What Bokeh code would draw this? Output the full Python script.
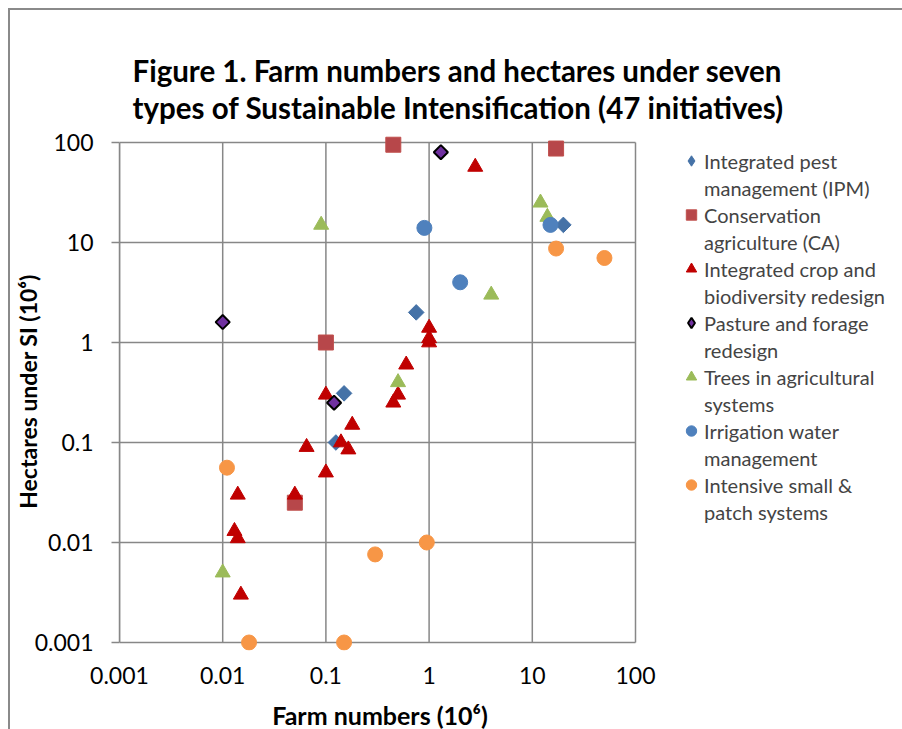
import math
import numpy as np
from bokeh.plotting import figure
from bokeh.models import Range1d, FixedTicker, Legend, LegendItem
from bokeh.embed import file_html
from bokeh.resources import INLINE

# ---------------- data ----------------
title_text = ("Figure 1. Farm numbers and hectares under seven\n"
              "types of Sustainable Intensification (47 initiatives)")
x_label = "Farm numbers (10\u2076)"
y_label = "Hectares under SI (10\u2076)"
tick_values = [0.001, 0.01, 0.1, 1, 10, 100]
tick_labels = ["0.001", "0.01", "0.1", "1", "10", "100"]

series_names = ["Integrated pest\nmanagement (IPM)",
                "Conservation\nagriculture (CA)",
                "Integrated crop and\nbiodiversity redesign",
                "Pasture and forage\nredesign",
                "Trees in agricultural\nsystems",
                "Irrigation water\nmanagement",
                "Intensive small &\npatch systems"]

ipm_x = [0.75, 0.15, 0.125, 20]
ipm_y = [2.0, 0.31, 0.1, 15]
ca_x = [0.45, 0.1, 17, 0.05]
ca_y = [95, 1.0, 87, 0.025]
icb_x = [2.8, 0.1, 0.5, 0.45, 0.18, 0.065, 0.14, 0.165, 0.1, 0.014, 0.05,
         0.013, 0.014, 0.015, 1.0, 1.0, 1.0, 0.6]
icb_y = [57, 0.3, 0.3, 0.25, 0.15, 0.09, 0.1, 0.085, 0.05, 0.03, 0.03,
         0.013, 0.011, 0.003, 1.4, 1.1, 1.0, 0.6]
past_x = [0.01, 1.3, 0.12]
past_y = [1.6, 80, 0.25]
trees_x = [0.09, 12, 14, 4, 0.5, 0.01]
trees_y = [15, 25, 18, 3, 0.4, 0.005]
irr_x = [0.9, 15, 2]
irr_y = [14, 15, 4]
int_x = [17, 50, 0.011, 0.3, 0.95, 0.018, 0.15]
int_y = [8.7, 7, 0.056, 0.0076, 0.01, 0.001, 0.001]

FONT = "Lato"
GRID = "#878787"

lo, hi = tick_values[0], tick_values[-1]
# small margins beyond the outer gridlines so edge markers are not clipped
x_rng = Range1d(lo, hi * 10 ** (5 / 103.2))
y_rng = Range1d(lo / 10 ** 0.08, hi * 10 ** 0.10)

p = figure(x_axis_type="log", y_axis_type="log",
           x_range=x_rng, y_range=y_rng,
           frame_width=521, frame_height=518,
           min_border_left=108, min_border_right=250,
           min_border_top=122, min_border_bottom=79,
           output_backend="svg", toolbar_location=None)
p.styles = {"border-left": "2px solid #8a8a8a", "border-top": "2px solid #8a8a8a",
            "margin-left": "8px", "margin-top": "8px"}
p.background_fill_color = "white"
p.border_fill_color = "white"
p.outline_line_color = None
p.grid.visible = False

p.title.text = title_text
p.title.align = "left"
p.title.offset = 13
p.title.standoff = 14
p.title.text_font = FONT
p.title.text_font_style = "bold"
p.title.text_font_size = "29.5px"
p.title.text_line_height = 1.07
p.title.text_color = "black"

for ax in (p.xaxis[0], p.yaxis[0]):
    ax.ticker = FixedTicker(ticks=tick_values, minor_ticks=[])
    ax.major_label_overrides = {v: l for v, l in zip(tick_values, tick_labels)}
    ax.axis_line_color = GRID
    ax.axis_line_width = 1.5
    ax.major_tick_line_color = GRID
    ax.major_tick_line_width = 1.5
    ax.minor_tick_line_color = None
    ax.major_label_text_font = FONT
    ax.major_label_text_font_size = "23px"
    ax.major_label_text_color = "black"
    ax.axis_label_text_font = FONT
    ax.axis_label_text_font_style = "bold"
    ax.axis_label_text_color = "black"

p.xaxis.axis_label = x_label
p.yaxis.axis_label = y_label
p.xaxis.axis_label_text_font_size = "25px"
p.yaxis.axis_label_text_font_size = "23px"
p.xaxis.axis_line_color = None
p.xaxis.major_tick_out = 0
p.xaxis.major_tick_in = 0
p.xaxis.major_label_standoff = 16
p.xaxis.axis_label_standoff = 13
p.yaxis.bounds = (lo, hi)
p.yaxis.major_tick_out = 8
p.yaxis.major_tick_in = 0
p.yaxis.major_label_standoff = 18
p.yaxis.axis_label_standoff = -10

# gridlines (only between the outer tick values, like the original)
tv = np.array(tick_values, dtype=float)
p.segment(x0=tv, y0=np.full_like(tv, lo), x1=tv, y1=np.full_like(tv, hi),
          line_color=GRID, line_width=1.5)
p.segment(x0=np.full_like(tv, lo), y0=tv, x1=np.full_like(tv, hi), y1=tv,
          line_color=GRID, line_width=1.5)

# legend glyphs for the diamond series: Bokeh draws legend markers unrotated,
# so a tiny 'diamond' marker on the same points (hidden below) feeds the legend
leg_ipm = p.scatter(ipm_x, ipm_y, marker="diamond", size=1,
                    fill_color="#4572A7", line_color="#4572A7")
leg_past = p.scatter(past_x, past_y, marker="diamond", size=1,
                     fill_color="#7030A0", line_color="black", line_width=2)

r_ipm = p.scatter(ipm_x, ipm_y, marker="square", angle=math.pi / 4, size=11,
                  fill_color="#4572A7", line_color="#4572A7")
r_ca = p.scatter(ca_x, ca_y, marker="square", size=15,
                 fill_color="#B7474A", line_color="#C0504D")
r_icb = p.scatter(icb_x, icb_y, marker="triangle", size=15,
                  fill_color="#C00000", line_color="#C00000")
r_past = p.scatter(past_x, past_y, marker="square", angle=math.pi / 4, size=10,
                   fill_color="#7030A0", line_color="black", line_width=2)
r_trees = p.scatter(trees_x, trees_y, marker="triangle", size=15,
                    fill_color="#9BBB59", line_color="#9BBB59")
r_irr = p.scatter(irr_x, irr_y, marker="circle", size=15,
                  fill_color="#4F81BD", line_color="#4F81BD")
r_int = p.scatter(int_x, int_y, marker="circle", size=15,
                  fill_color="#F79646", line_color="#F79646")

legend_renderers = [leg_ipm, r_ca, r_icb, leg_past, r_trees, r_irr, r_int]
items = []
for name, r in zip(series_names, legend_renderers):
    lines = name.split("\n")
    items.append(LegendItem(label=lines[0], renderers=[r]))
    for extra in lines[1:]:
        items.append(LegendItem(label=extra, renderers=[]))

legend = Legend(items=items, location=(38, 125), margin=0, padding=0,
                label_text_font=FONT, label_text_font_size="20px",
                glyph_width=26, glyph_height=27, label_standoff=0, spacing=0,
                border_line_color=None, background_fill_alpha=0)
p.add_layout(legend, "right")

open("out.html", "w").write(file_html(p, INLINE))
